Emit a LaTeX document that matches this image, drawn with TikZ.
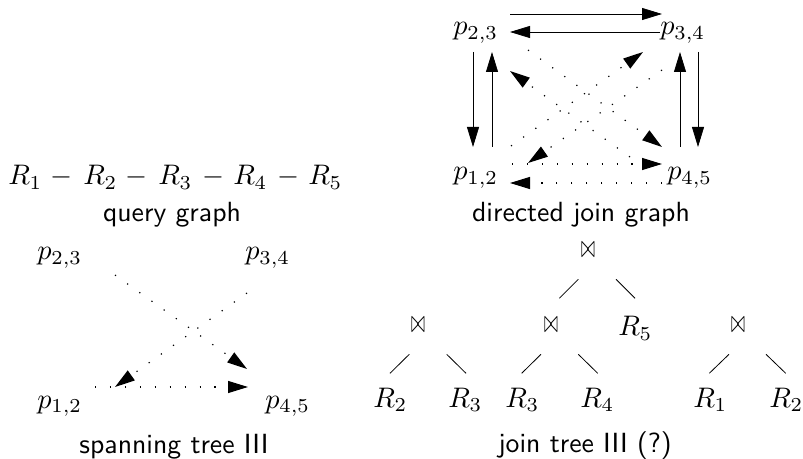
\documentclass[tikz,border=0pt]{standalone}
\usepackage{graphicx}
\usetikzlibrary{arrows.meta}
\newcommand{\mysc}[1]{\scalebox{2.12}{#1}}
\newcommand{\myss}[1]{\scalebox{2.08}{\sffamily #1}}
\newcommand{\myjoin}{\scalebox{1.25}[2.4]{$\bowtie$}}
\begin{document}
\begin{tikzpicture}[x=0.75pt,y=-0.75pt,
  lbl/.style={inner sep=0pt,anchor=base west},
  ttl/.style={inner sep=0pt,anchor=base},
  jn/.style={inner sep=0pt,anchor=center},
  arr/.style={line width=0.6pt,-{Triangle[length=15pt,width=9pt]}},
  darr/.style={arr,line width=0.9pt,dash pattern=on 0.9pt off 10.3pt},
  edge/.style={line width=0.6pt}]
\useasboundingbox (0,0) rectangle (803,459);
% query graph
\node[lbl] (r1) at (8,185) {\mysc{$R_1$}};
\node[lbl] (m1) at (50,185) {\mysc{$-$}};
\node[lbl] (r2) at (83,185) {\mysc{$R_2$}};
\node[lbl] (m2) at (125,185) {\mysc{$-$}};
\node[lbl] (r3) at (158,185) {\mysc{$R_3$}};
\node[lbl] (m3) at (202,185) {\mysc{$-$}};
\node[lbl] (r4) at (233,185) {\mysc{$R_4$}};
\node[lbl] (m4) at (277,185) {\mysc{$-$}};
\node[lbl] (r5) at (308,185) {\mysc{$R_5$}};
\node[ttl] (qg) at (172,222) {\myss{query graph}};
% directed join graph
\node[lbl] (d23) at (453,35) {\mysc{$p_{2,3}$}};
\node[lbl] (d34) at (660,35) {\mysc{$p_{3,4}$}};
\node[lbl] (d12) at (453,180) {\mysc{$p_{1,2}$}};
\node[lbl] (d45) at (667,180) {\mysc{$p_{4,5}$}};
\node[ttl] (djg) at (581,222) {\myss{directed join graph}};
\coordinate (t1a) at (510,14); \coordinate (t1b) at (662,14);
\coordinate (t2a) at (660,32); \coordinate (t2b) at (510,32);
\coordinate (l1a) at (473,52); \coordinate (l1b) at (473,147);
\coordinate (l2a) at (492,147); \coordinate (l2b) at (492,52);
\coordinate (q1a) at (680,147); \coordinate (q1b) at (680,52);
\coordinate (q2a) at (698,52); \coordinate (q2b) at (698,147);
\coordinate (dAa) at (528,50); \coordinate (dAb) at (662,147);
\coordinate (dBa) at (630,157); \coordinate (dBb) at (510,71);
\coordinate (dCa) at (511,146); \coordinate (dCb) at (643,52);
\coordinate (dDa) at (662,70); \coordinate (dDb) at (528,163);
\coordinate (h1a) at (512,164); \coordinate (h1b) at (662,164);
\coordinate (h2a) at (662,183); \coordinate (h2b) at (510,183);
\draw[arr] (t1a) -- (t1b);
\draw[arr] (t2a) -- (t2b);
\draw[arr] (l1a) -- (l1b);
\draw[arr] (l2a) -- (l2b);
\draw[arr] (q1a) -- (q1b);
\draw[arr] (q2a) -- (q2b);
\draw[darr] (dAa) -- (dAb);
\draw[darr] (dBa) -- (dBb);
\draw[darr] (dCa) -- (dCb);
\draw[darr] (dDa) -- (dDb);
\draw[darr] (h1a) -- (h1b);
\draw[darr] (h2a) -- (h2b);
% spanning tree
\node[lbl] (s23) at (37,260) {\mysc{$p_{2,3}$}};
\node[lbl] (s34) at (245,260) {\mysc{$p_{3,4}$}};
\node[lbl] (s12) at (37,408) {\mysc{$p_{1,2}$}};
\node[lbl] (s45) at (265,408) {\mysc{$p_{4,5}$}};
\node[ttl] (stt) at (174,453) {\myss{spanning tree III}};
\coordinate (s1a) at (115,275); \coordinate (s1b) at (247,369);
\coordinate (s2a) at (247,293); \coordinate (s2b) at (115,387);
\coordinate (s3a) at (95,387); \coordinate (s3b) at (248,387);
\draw[darr] (s1a) -- (s1b);
\draw[darr] (s2a) -- (s2b);
\draw[darr] (s3a) -- (s3b);
% join tree
\node[jn] (j0) at (588,250) {\myjoin};
\node[jn] (j1) at (418,325) {\myjoin};
\node[jn] (j2) at (551,325) {\myjoin};
\node[jn] (j3) at (738,325) {\myjoin};
\node[lbl] (jr5) at (618,336) {\mysc{$R_5$}};
\node[lbl] (l2) at (373,407) {\mysc{$R_2$}};
\node[lbl] (l3) at (448,407) {\mysc{$R_3$}};
\node[lbl] (l3b) at (505,407) {\mysc{$R_3$}};
\node[lbl] (l4) at (580,407) {\mysc{$R_4$}};
\node[lbl] (l1) at (693,407) {\mysc{$R_1$}};
\node[lbl] (l2b) at (769,407) {\mysc{$R_2$}};
\node[ttl] (jtt) at (585,452) {\myss{join tree III (?)}};
\coordinate (e1a) at (578.3,279.3); \coordinate (e1b) at (559.3,298.3);
\coordinate (e2a) at (616,279.3); \coordinate (e2b) at (635,298.3);
\coordinate (e3a) at (409.3,354.3); \coordinate (e3b) at (390,373.3);
\coordinate (e4a) at (446.7,354.3); \coordinate (e4b) at (466,373.3);
\coordinate (e5a) at (541,354.3); \coordinate (e5b) at (521.7,373.3);
\coordinate (e6a) at (578.3,354.3); \coordinate (e6b) at (597.7,373.3);
\coordinate (e7a) at (729,354.3); \coordinate (e7b) at (709.3,373.3);
\coordinate (e8a) at (766,354.3); \coordinate (e8b) at (785.7,373.3);
\foreach \e in {1,...,8} {\draw[edge] (e\e a) -- (e\e b);}
\end{tikzpicture}
\end{document}
